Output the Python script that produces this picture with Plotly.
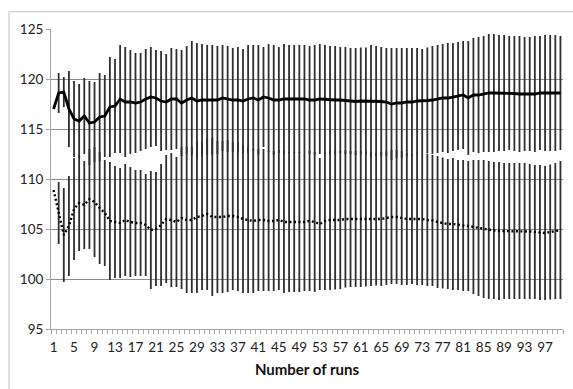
import plotly.graph_objects as go

runs = list(range(1, 101))

# Upper series: mean and half-width of the error bar per number of runs
upper_mean = [
    117.0, 118.6, 118.7, 117.0, 116.0, 115.8, 116.3, 115.6, 115.7, 116.2,
    116.3, 117.2, 117.3, 118.0, 117.7, 117.7, 117.6, 117.7, 118.0, 118.2,
    118.1, 117.8, 117.7, 118.0, 118.0, 117.6, 117.9, 118.1, 117.8, 117.9,
    117.9, 117.9, 117.9, 118.1, 118.0, 117.9, 117.9, 117.8, 118.0, 118.1,
    117.9, 118.2, 118.1, 117.9, 117.9, 118.0, 118.0, 118.0, 118.0, 118.0,
    117.9, 117.9, 118.0, 117.95, 117.9, 117.9, 117.9, 117.85, 117.8, 117.75,
    117.8, 117.8, 117.8, 117.8, 117.75, 117.7, 117.5, 117.6, 117.6, 117.7,
    117.7, 117.8, 117.8, 117.85, 117.9, 118.0, 118.1, 118.1, 118.2, 118.3,
    118.4, 118.1, 118.4, 118.4, 118.5, 118.6, 118.6, 118.6, 118.6, 118.6,
    118.55, 118.5, 118.5, 118.5, 118.5, 118.6, 118.6, 118.6, 118.6, 118.6,
]
upper_err = [
    None, 2.0, 1.5, 3.8, 3.8, 3.7, 3.8, 4.2, 4.0, 4.4,
    4.1, 5.0, 4.7, 5.4, 5.5, 5.2, 5.0, 4.9, 5.0, 5.0,
    4.8, 5.0, 4.8, 5.1, 5.0, 5.3, 5.4, 5.7, 5.8, 5.6,
    5.5, 5.5, 5.4, 5.3, 5.3, 5.2, 5.3, 5.2, 5.4, 5.3,
    5.5, 5.0, 5.4, 5.5, 5.3, 5.5, 5.4, 5.4, 5.4, 5.4,
    5.4, 5.5, 5.5, 5.45, 5.4, 5.4, 5.3, 5.35, 5.3, 5.35,
    5.35, 5.35, 5.6, 5.5, 5.45, 5.4, 5.6, 5.5, 5.5, 5.4,
    5.4, 5.3, 5.2, 5.3, 5.4, 5.4, 5.4, 5.5, 5.4, 5.4,
    5.4, 5.7, 5.7, 5.8, 5.8, 5.9, 5.9, 5.8, 5.8, 5.7,
    5.75, 5.8, 5.7, 5.7, 5.8, 5.7, 5.8, 5.8, 5.8, 5.7,
]

# Lower series (dotted line)
lower_mean = [
    108.9, 106.6, 104.4, 105.3, 107.0, 107.6, 107.4, 108.0, 107.7, 107.1,
    106.6, 105.8, 105.7, 105.6, 105.9, 105.7, 105.6, 105.6, 105.4, 104.9,
    105.0, 105.4, 106.0, 105.9, 105.7, 106.1, 105.9, 105.9, 106.2, 106.3,
    106.5, 106.2, 106.2, 106.2, 106.3, 106.3, 106.2, 106.0, 105.9, 105.8,
    105.9, 105.9, 105.8, 105.8, 105.9, 105.7, 105.7, 105.7, 105.7, 105.7,
    105.8, 105.7, 105.5, 105.8, 105.9, 105.9, 105.9, 106.0, 106.0, 106.0,
    106.0, 106.0, 106.0, 106.0, 106.0, 106.1, 106.2, 106.2, 106.1, 106.0,
    106.0, 106.0, 106.0, 105.9, 105.85, 105.7, 105.6, 105.5, 105.5, 105.4,
    105.35, 105.3, 105.2, 105.1, 105.0, 104.9, 104.85, 104.8, 104.8, 104.8,
    104.8, 104.8, 104.8, 104.75, 104.7, 104.65, 104.6, 104.7, 104.8, 104.9,
]
lower_err = [
    None, 3.1, 4.7, 5.0, 5.1, 4.8, 4.4, 5.0, 5.5, 5.6,
    5.3, 5.9, 5.6, 5.5, 5.6, 5.5, 5.3, 5.3, 5.1, 5.9,
    5.7, 6.1, 6.4, 6.7, 6.5, 7.1, 7.3, 7.3, 7.6, 7.4,
    7.6, 7.9, 7.6, 7.6, 7.6, 7.4, 7.4, 7.4, 7.3, 7.2,
    7.1, 7.1, 7.0, 7.0, 7.0, 7.1, 7.0, 7.0, 7.0, 6.9,
    7.0, 7.0, 6.6, 6.9, 7.0, 6.95, 6.9, 6.85, 6.8, 6.8,
    6.8, 6.75, 6.7, 6.65, 6.7, 6.7, 6.7, 6.7, 6.7, 6.6,
    6.5, 6.6, 6.6, 6.6, 6.55, 6.6, 6.55, 6.5, 6.6, 6.5,
    6.55, 6.5, 6.7, 6.8, 6.9, 6.9, 6.85, 6.9, 6.8, 6.8,
    6.8, 6.8, 6.8, 6.75, 6.7, 6.75, 6.7, 6.75, 6.8, 6.9,
]

x_tick_values = list(range(1, 101, 4))
y_tick_values = [95, 100, 105, 110, 115, 120, 125]

bar_color = "#2e2e2e"

fig = go.Figure()

fig.add_trace(go.Scatter(
    x=runs, y=lower_mean, mode="lines",
    line=dict(color="black", width=2.4, dash="2px,2.5px"),
    error_y=dict(type="data", array=lower_err, visible=True,
                 color=bar_color, thickness=1.8, width=0),
    hoverinfo="skip", showlegend=False,
))
fig.add_trace(go.Scatter(
    x=runs, y=upper_mean, mode="lines",
    line=dict(color="black", width=2.8),
    error_y=dict(type="data", array=upper_err, visible=True,
                 color=bar_color, thickness=1.8, width=0),
    hoverinfo="skip", showlegend=False,
))

# light frame around the chart area
fig.add_shape(type="rect", xref="paper", yref="paper",
              x0=-0.082, x1=1.1, y0=-0.3, y1=1.0577,
              line=dict(color="#c0c0c0", width=1), layer="below")

fig.update_layout(
    width=573, height=389,
    margin=dict(l=51, r=9.5, t=29, b=60),
    paper_bgcolor="white", plot_bgcolor="white",
    font=dict(family="Lato, 'Open Sans', sans-serif", size=13.5, color="#222222"),
    xaxis=dict(
        range=[0.5, 100.5], tickmode="array", tickvals=x_tick_values,
        ticks="", showgrid=False, zeroline=False,
        showline=True, linecolor="#a6a6a6", linewidth=1,
        ticklabelstandoff=6,
        minor=dict(ticks="outside", tick0=0.5, dtick=1, ticklen=4,
                   tickcolor="#a6a6a6", tickwidth=1, showgrid=False),
        title=dict(text="<b>Number of runs</b>", font=dict(size=15, color="#111111"),
                   standoff=10),
    ),
    yaxis=dict(
        range=[95, 125], tickmode="array", tickvals=y_tick_values,
        showgrid=True, gridcolor="#8c8c8c", gridwidth=1,
        zeroline=False, showline=True, linecolor="#a6a6a6", linewidth=1,
        ticks="outside", ticklen=4, tickcolor="#a6a6a6",
        ticklabelstandoff=0,
    ),
)

fig.write_html("out.html")
